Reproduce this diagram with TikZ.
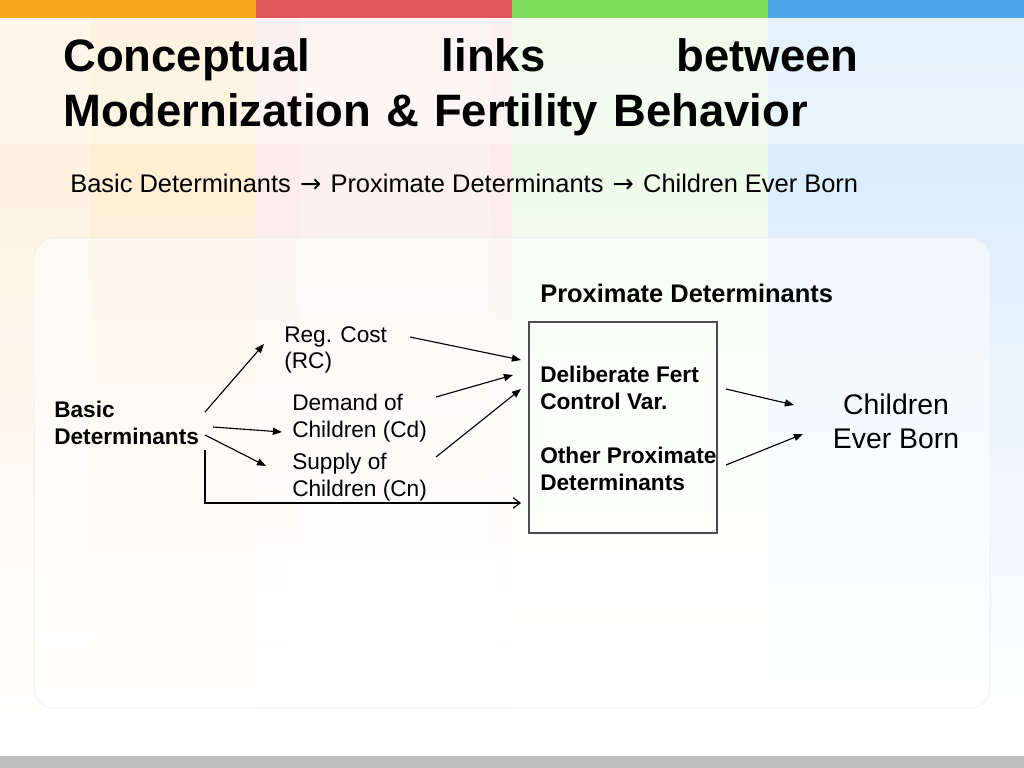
\documentclass[tikz,border=0pt]{standalone}
\usepackage{fontspec}
\setmainfont{Liberation Sans}
\newfontfamily\arrowfont{DejaVu Sans}
\usetikzlibrary{arrows.meta,positioning}
\definecolor{barorange}{RGB}{250,166,26}
\definecolor{barred}{RGB}{226,88,94}
\definecolor{bargreen}{RGB}{128,222,92}
\definecolor{barblue}{RGB}{76,163,232}
\definecolor{footgray}{RGB}{191,191,191}
\newcommand{\thento}{\makebox[1em][c]{\arrowfont →}}
\tikzset{
  tv/.style = {font=\fontsize{32.3}{39}\selectfont\bfseries, anchor=north west, inner sep=0pt, text width=19.875cm, align=left},
  sv/.style = {font=\fontsize{18.1}{21.7}\selectfont, anchor=base west, inner sep=0pt},
  hv/.style = {font=\fontsize{18.1}{21.7}\selectfont\bfseries, anchor=base west, inner sep=0pt},
  bv/.style = {font=\fontsize{16.1}{18.9}\selectfont\bfseries, anchor=north west, inner sep=0pt, align=left},
  iv/.style = {font=\fontsize{16.1}{18.9}\selectfont, anchor=north west, inner sep=0pt, align=left},
  ov/.style = {font=\fontsize{20.2}{23.6}\selectfont, anchor=north, inner sep=0pt, align=center},
  pbox/.style = {draw=black!70, line width=0.9pt},
  arrow/.style = {line width=0.8pt, -{Triangle[length=6.5pt,width=5pt]}},
  oarrow/.style = {line width=0.8pt, -{Straight Barb[length=5pt,width=7.5pt]}}
}

\begin{document}
\begin{tikzpicture}[x=0.025cm, y=-0.025cm]
  \useasboundingbox (0,0) rectangle (1024,768);
  % background stripes
  \shade[top color=barorange!24, bottom color=white] (0,18) rectangle (256,720);
  \shade[top color=barorange!16, bottom color=white, fill opacity=0.8] (0,18) rectangle (90,640);
  \shade[top color=barred!15, bottom color=white] (256,18) rectangle (512,720);
  \shade[top color=barred!11, bottom color=white, fill opacity=0.8] (300,18) rectangle (490,690);
  \shade[top color=bargreen!20, bottom color=white, middle color=bargreen!6] (512,18) rectangle (768,720);
  \shade[top color=barblue!26, bottom color=white, middle color=barblue!12] (768,18) rectangle (1024,720);
  \fill[white, fill opacity=0.45] (0,18) rectangle (1024,144);
  % colour bars
  \fill[barorange] (0,0) rectangle (256,18);
  \fill[barred] (256,0) rectangle (512,18);
  \fill[bargreen] (512,0) rectangle (768,18);
  \fill[barblue] (768,0) rectangle (1024,18);
  \fill[footgray] (0,756) rectangle (1024,768);
  % panel
  \filldraw[fill=white, fill opacity=0.55, draw=black!7, rounded corners=0.5cm] (34,238) rectangle (990,708);

  \node[tv] (title) at (63,38) {Conceptual\hfill links\hfill between\\Modernization \& Fertility Behavior};
  \node[sv] (sub) at (70,192) {Basic Determinants \thento{} Proximate Determinants \thento{} Children Ever Born};

  \node[bv] (basic) at (54,401) {Basic\\Determinants};
  \node[iv] (rc) at (284,326) {Reg. Cost\\(RC)};
  \node[iv] (cd) at (292,394) {Demand of\\Children (Cd)};
  \node[iv] (cn) at (292,453) {Supply of\\Children (Cn)};
  \draw[pbox] (529,322) rectangle (717,533);
  \node[hv] (pd) at (540,302) {Proximate Determinants};
  \node[bv] (dfc) at (540,366) {Deliberate Fert\\Control Var.};
  \node[bv] (opd) at (540,447) {Other Proximate\\Determinants};
  \node[ov] (ceb) at (896,394) {Children\\Ever Born};

  % connector ends
  \coordinate (b1) at (205,412);
  \coordinate (b2) at (213,427);
  \coordinate (b3) at (205,435);
  \coordinate (b4) at (205,450);
  \coordinate (rc1) at (264,344);
  \coordinate (rc2) at (410,337);
  \coordinate (cd1) at (282,432);
  \coordinate (cd2) at (436,397);
  \coordinate (cn1) at (266,466);
  \coordinate (cn2) at (436,457);
  \coordinate (p1) at (521,360);
  \coordinate (p2) at (513,375);
  \coordinate (p3) at (521,389);
  \coordinate (p4) at (521,503);
  \coordinate (q1) at (726,389);
  \coordinate (q2) at (726,465);
  \coordinate (c1) at (794,405);
  \coordinate (c2) at (803,434);

  \draw[arrow] (b1) -- (rc1);
  \draw[arrow] (b2) -- (cd1);
  \draw[arrow] (b3) -- (cn1);
  \draw[oarrow] (b4) |- (p4);
  \draw[arrow] (rc2) -- (p1);
  \draw[arrow] (cd2) -- (p2);
  \draw[arrow] (cn2) -- (p3);
  \draw[arrow] (q1) -- (c1);
  \draw[arrow] (q2) -- (c2);
\end{tikzpicture}
\end{document}
